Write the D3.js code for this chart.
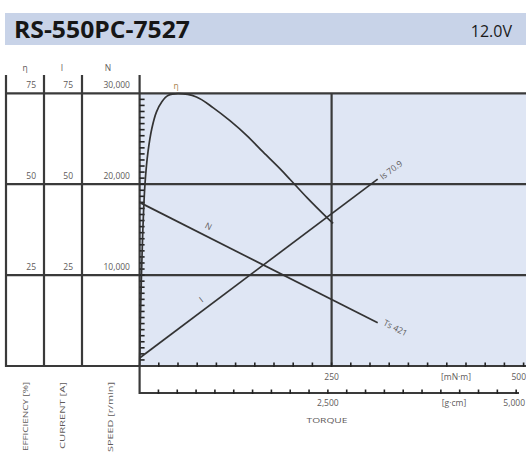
<!DOCTYPE html>
<html>
<head>
<meta charset="utf-8">
<script src="https://cdn.jsdelivr.net/npm/d3@7"></script>
<style>
  body { margin: 0; background: #fff; }
  svg { display: block; }
  text { font-family: "Open Sans", "DejaVu Sans", sans-serif; }
</style>
</head>
<body>
<svg id="chart" width="526" height="457"></svg>
<script>
// ---- data ----
var modelName = "RS-550PC-7527";
var voltage = "12.0V";

// torque [mN·m] vs efficiency [%]
var effTorque = [0, 1.5, 4, 7, 11, 16, 22, 29, 37, 50, 74, 96, 118, 140, 161, 183, 196, 218, 244, 252];
var effValue  = [0, 17, 36, 50, 59, 65.4, 69.9, 72.7, 74.4, 74.9, 74.0, 71.0, 67.4, 63.3, 58.8, 54.2, 51.3, 46.3, 40.8, 39.2];

// speed line (N) [r/min]
var speedTorque = [0, 310];
var speedValue  = [18000, 4750];

// current line (I) [A]
var currentTorque = [0, 310];
var currentValue  = [2.2, 51.4];

var leftTicks = [
  { eff: "75", cur: "75", spd: "30,000" },
  { eff: "50", cur: "50", spd: "20,000" },
  { eff: "25", cur: "25", spd: "10,000" }
];
var torqueLabels = ["250", "500"];
var gcmLabels = ["2,500", "5,000"];

var stallTorqueLabel = "Ts 421";
var stallCurrentLabel = "Is 70.9";

// ---- layout ----
var svg = d3.select("#chart");
var lineCol = "#3a3a3a";
var textCol = "#5e5a5a";
var fs = 8.5;

var x = d3.scaleLinear().domain([0, 500]).range([139.6, 523.6]);
var xg = d3.scaleLinear().domain([0, 5098.6]).range([139.6, 523.6]); // g·cm (500 mN·m = 5098.6 g·cm)
var yEff = d3.scaleLinear().domain([0, 75]).range([366, 93.3]);
var yCur = d3.scaleLinear().domain([0, 75]).range([366, 93.3]);
var ySpd = d3.scaleLinear().domain([0, 30000]).range([366, 93.3]);

// title bar
svg.append("rect").attr("x", 5).attr("y", 13).attr("width", 521).attr("height", 32)
  .attr("fill", "#c8d3e8");
svg.append("text").attr("x", 14).attr("y", 38)
  .attr("font-size", 24).attr("font-weight", 700).attr("fill", "#161616")
  .attr("textLength", 176).attr("lengthAdjust", "spacingAndGlyphs")
  .text(modelName);
svg.append("text").attr("x", 512).attr("y", 37).attr("text-anchor", "end")
  .attr("font-size", 16).attr("fill", "#1a1a1a")
  .text(voltage);

// plot background
svg.append("rect").attr("x", x(0)).attr("y", yEff(75))
  .attr("width", 526 - x(0)).attr("height", yEff(0) - yEff(75))
  .attr("fill", "#dfe6f4");

// horizontal grid lines (through left columns too)
var g = svg.append("g");
[75, 50, 25, 0].forEach(function(v) {
  g.append("line").attr("x1", 6).attr("x2", 526)
    .attr("y1", yEff(v)).attr("y2", yEff(v))
    .attr("stroke", lineCol).attr("stroke-width", 2.2);
});

// left column verticals
[6, 44, 82].forEach(function(xx) {
  g.append("line").attr("x1", xx).attr("x2", xx).attr("y1", 75).attr("y2", yEff(0) + 1)
    .attr("stroke", lineCol).attr("stroke-width", 2.2);
});
// plot y axis (runs down to the second torque axis)
g.append("line").attr("x1", x(0)).attr("x2", x(0)).attr("y1", 75).attr("y2", 394)
  .attr("stroke", lineCol).attr("stroke-width", 2.2);
// vertical grid at 250
g.append("line").attr("x1", x(250)).attr("x2", x(250)).attr("y1", yEff(75)).attr("y2", yEff(0))
  .attr("stroke", lineCol).attr("stroke-width", 2.2);

// minor ticks on plot y axis
var yMinor = d3.range(1, 45).map(function(i) { return i * 75 / 45; });
g.selectAll(".ytick").data(yMinor).enter().append("line")
  .attr("x1", x(0)).attr("x2", x(0) + 5)
  .attr("y1", function(d) { return yEff(d); }).attr("y2", function(d) { return yEff(d); })
  .attr("stroke", "#222").attr("stroke-width", 1.6);

// column headers
var heads = [["\u03b7", 25], ["I", 62], ["N", 108]];
heads.forEach(function(h) {
  svg.append("text").attr("x", h[1]).attr("y", 71).attr("text-anchor", "middle")
    .attr("font-size", fs).attr("fill", textCol).text(h[0]);
});

// left tick labels
var tickVals = [75, 50, 25];
leftTicks.forEach(function(t, i) {
  var yy = yEff(tickVals[i]) - 5;
  svg.append("text").attr("x", 36).attr("y", yy).attr("text-anchor", "end")
    .attr("font-size", fs).attr("fill", textCol).text(t.eff);
  svg.append("text").attr("x", 73).attr("y", yy).attr("text-anchor", "end")
    .attr("font-size", fs).attr("fill", textCol).text(t.cur);
  svg.append("text").attr("x", 130).attr("y", yy).attr("text-anchor", "end")
    .attr("font-size", fs).attr("fill", textCol).text(t.spd);
});

// rotated axis titles under the columns
[["EFFICIENCY [%]", 28, 69], ["CURRENT [A]", 65, 67], ["SPEED [r/min]", 113, 70]].forEach(function(a) {
  svg.append("text")
    .attr("transform", "translate(" + a[1] + ",382) rotate(-90)")
    .attr("text-anchor", "end").attr("font-size", 8).attr("fill", textCol)
    .attr("textLength", a[2]).attr("lengthAdjust", "spacingAndGlyphs")
    .text(a[0]);
});

// torque axes
var yT1 = yEff(0), yT2 = 393;
g.append("line").attr("x1", x(0)).attr("x2", 519).attr("y1", yT2).attr("y2", yT2)
  .attr("stroke", lineCol).attr("stroke-width", 2.2);

var t1 = d3.range(25, 525, 25);
g.selectAll(".t1").data(t1).enter().append("line")
  .attr("x1", function(d) { return x(d); }).attr("x2", function(d) { return x(d); })
  .attr("y1", yT1 - 3.5).attr("y2", yT1 + 1)
  .attr("stroke", "#222").attr("stroke-width", 1.6);

var t2 = d3.range(250, 5250, 250);
g.selectAll(".t2").data(t2).enter().append("line")
  .attr("x1", function(d) { return xg(d); }).attr("x2", function(d) { return xg(d); })
  .attr("y1", yT2 - 3.5).attr("y2", yT2 + 1)
  .attr("stroke", "#222").attr("stroke-width", 1.6);

svg.append("text").attr("x", x(250)).attr("y", 380).attr("text-anchor", "middle")
  .attr("font-size", fs).attr("fill", textCol).text(torqueLabels[0]);
svg.append("text").attr("x", 526).attr("y", 380).attr("text-anchor", "end")
  .attr("font-size", fs).attr("fill", textCol).text(torqueLabels[1]);
svg.append("text").attr("x", 456).attr("y", 380).attr("text-anchor", "middle")
  .attr("font-size", fs).attr("fill", textCol).text("[mN\u00b7m]");

svg.append("text").attr("x", xg(2500)).attr("y", 406).attr("text-anchor", "middle")
  .attr("font-size", fs).attr("fill", textCol).text(gcmLabels[0]);
svg.append("text").attr("x", 525).attr("y", 406).attr("text-anchor", "end")
  .attr("font-size", fs).attr("fill", textCol).text(gcmLabels[1]);
svg.append("text").attr("x", 454).attr("y", 406).attr("text-anchor", "middle")
  .attr("font-size", fs).attr("fill", textCol).text("[g\u00b7cm]");
svg.append("text").attr("x", 327).attr("y", 423).attr("text-anchor", "middle")
  .attr("font-size", 8).attr("fill", textCol)
  .attr("textLength", 41).attr("lengthAdjust", "spacingAndGlyphs").text("TORQUE");

// curves
var effLine = d3.line()
  .x(function(d) { return x(d[0]); })
  .y(function(d) { return yEff(d[1]); })
  .curve(d3.curveCatmullRom.alpha(0.5));
svg.append("path").datum(d3.zip(effTorque, effValue))
  .attr("d", effLine).attr("fill", "none").attr("stroke", "#333").attr("stroke-width", 1.7);

var spdLine = d3.line()
  .x(function(d) { return x(d[0]); })
  .y(function(d) { return ySpd(d[1]); });
svg.append("path").datum(d3.zip(speedTorque, speedValue))
  .attr("d", spdLine).attr("fill", "none").attr("stroke", "#333").attr("stroke-width", 1.7);

var curLine = d3.line()
  .x(function(d) { return x(d[0]); })
  .y(function(d) { return yCur(d[1]); });
svg.append("path").datum(d3.zip(currentTorque, currentValue))
  .attr("d", curLine).attr("fill", "none").attr("stroke", "#333").attr("stroke-width", 1.7);

// curve labels
var angN = Math.atan2(ySpd(speedValue[1]) - ySpd(speedValue[0]), x(speedTorque[1]) - x(speedTorque[0])) * 180 / Math.PI;
var angI = Math.atan2(yCur(currentValue[1]) - yCur(currentValue[0]), x(currentTorque[1]) - x(currentTorque[0])) * 180 / Math.PI;

svg.append("text").attr("x", 176).attr("y", 89).attr("text-anchor", "middle")
  .attr("font-size", fs).attr("fill", "#a8844e").text("\u03b7");
svg.append("text").attr("transform", "translate(207,229) rotate(" + angN + ")")
  .attr("text-anchor", "middle").attr("font-size", fs).attr("fill", textCol).text("N");
svg.append("text").attr("transform", "translate(203,302) rotate(" + angI + ")")
  .attr("text-anchor", "middle").attr("font-size", fs).attr("fill", textCol).text("I");

var endI = [x(currentTorque[1]), yCur(currentValue[1])];
var endN = [x(speedTorque[1]), ySpd(speedValue[1])];
svg.append("text").attr("transform", "translate(" + (endI[0] + 5) + "," + (endI[1] + 1) + ") rotate(" + angI + ")")
  .attr("font-size", fs).attr("fill", textCol).text(stallCurrentLabel);
svg.append("text").attr("transform", "translate(" + (endN[0] + 5) + "," + (endN[1] + 2) + ") rotate(" + angN + ")")
  .attr("font-size", fs).attr("fill", textCol).text(stallTorqueLabel);
</script>
</body>
</html>
